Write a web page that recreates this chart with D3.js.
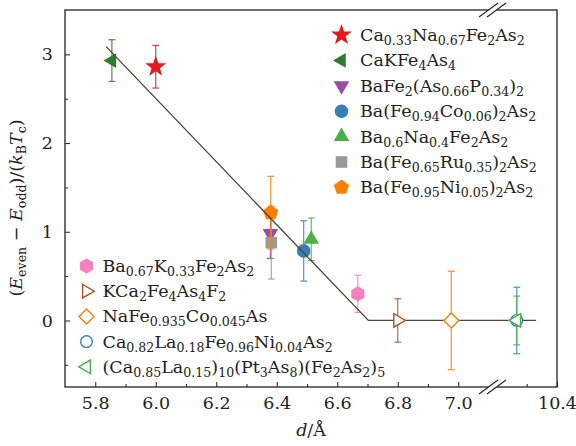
<!DOCTYPE html>
<html>
<head>
<meta charset="utf-8">
<script src="https://cdn.jsdelivr.net/npm/d3@7"></script>
<style>
  body { margin: 0; background: #fff; }
  text { font-family: "DejaVu Serif", serif; fill: #222; }
</style>
</head>
<body>
<div id="chart"></div>
<script>
// samples
const samples = [
    'Ca_{0.33}Na_{0.67}Fe_{2}As_{2}',
    'CaKFe_{4}As_{4}',
    'BaFe_{2}(As_{0.66}P_{0.34})_{2}',
    'Ba(Fe_{0.94}Co_{0.06})_{2}As_{2}',
    'Ba_{0.6}Na_{0.4}Fe_{2}As_{2}',
    'Ba(Fe_{0.65}Ru_{0.35})_{2}As_{2}',
    'Ba(Fe_{0.95}Ni_{0.05})_{2}As_{2}',
    'Ba_{0.67}K_{0.33}Fe_{2}As_{2}',
    'KCa_{2}Fe_{4}As_{4}F_{2}',
    'NaFe_{0.935}Co_{0.045}As',
    'Ca_{0.82}La_{0.18}Fe_{0.96}Ni_{0.04}As_{2}',
    '(Ca_{0.85}La_{0.15})_{10}(Pt_{3}As_{8})(Fe_{2}As_{2})_{5}'
];
const dValues = [6.00, 5.855, 6.379, 6.489, 6.514, 6.382, 6.38, 6.668, 6.80, 6.977, 10.267, 10.267];
const gapValues = [2.86, 2.93, 0.98, 0.784, 0.915, 0.877, 1.215, 0.30, 0, 0, 0, 0];
const gapErrors = [0.24, 0.235, 0.28, 0.34, 0.24, 0.41, 0.41, 0.21, 0.245, 0.555, 0.375, 0.275];
const markers = ['star', 'left', 'down', 'circle', 'up', 'square', 'pentagon', 'hexagon',
                 'openRight', 'openDiamond', 'openCircle', 'openLeft'];
const colors = ['#e41a1c', '#2e7a30', '#984ea3', '#377eb8', '#4daf4a', '#999999', '#ff7f00',
                '#f781bf', '#a65628', '#ff7f00', '#377eb8', '#4daf4a'];

// guide line
const fitD = [5.836, 6.703, 10.331];
const fitGap = [3.087, 0, 0];

const xMajor = [5.8, 6.0, 6.2, 6.4, 6.6, 6.8, 7.0, 10.4];
const xMinor = [5.9, 6.1, 6.3, 6.5, 6.7, 6.9, 10.3];
const yMajor = [0, 1, 2, 3];
const yMinor = [-0.5, 0.5, 1.5, 2.5];

const width = 576;
const height = 446;
const mLeft = 65, mRight = 557, mTop = 10, mBottom = 387;

const svg = d3.select('#chart').append('svg')
    .attr('width', width)
    .attr('height', height);

// broken x axis: 5.7..7.1 | 10.2..10.4
const x = d3.scaleLinear()
    .domain([5.7, 7.1, 10.2, 10.4])
    .range([mLeft, 488.5, 496.5, mRight]);
const y = d3.scaleLinear()
    .domain([-0.75, 3.5])
    .range([mBottom, mTop]);

// text with _{sub} and $italic$
function richText(sel, str) {
    const parts = str.match(/_\{[^}]*\}|\$[^$]*\$|[^_$]+/g);
    let shift = 0;
    parts.forEach((p) => {
        const t = sel.append('tspan');
        if (p.startsWith('_{')) {
            t.text(p.slice(2, -1)).attr('font-size', '0.72em').attr('dy', 4 - shift);
            shift = 4;
        } else {
            if (p.startsWith('$')) {
                t.text(p.slice(1, -1)).attr('font-style', 'italic');
            } else {
                t.text(p);
            }
            if (shift) t.attr('dy', -shift);
            shift = 0;
        }
    });
}

function polygon(n, r, start, inner) {
    const pts = [];
    const count = inner ? n * 2 : n;
    for (let i = 0; i < count; i += 1) {
        const a = (start + i * 360 / count) * Math.PI / 180;
        const rr = inner && i % 2 === 1 ? r * inner : r;
        pts.push([rr * Math.cos(a), rr * Math.sin(a)]);
    }
    return d3.line().curve(d3.curveLinearClosed)(pts);
}

function shape(type) {
    switch (type) {
        case 'star': return polygon(5, 11, -90, 0.4);
        case 'left': return polygon(3, 8.5, 180);
        case 'down': return polygon(3, 9, 90);
        case 'up': return polygon(3, 9, -90);
        case 'circle': return d3.symbol(d3.symbolCircle, Math.PI * 6.8 * 6.8)();
        case 'square': return polygon(4, 8.2, 45);
        case 'pentagon': return polygon(5, 8, -90);
        case 'hexagon': return polygon(6, 7.6, -90);
        case 'openRight': return polygon(3, 7.8, 0);
        case 'openDiamond': return polygon(4, 7.5, -90);
        case 'openCircle': return d3.symbol(d3.symbolCircle, Math.PI * 5.8 * 5.8)();
        case 'openLeft': return polygon(3, 7.8, 180);
    }
}

function drawMarker(g, i, cx, cy) {
    const open = markers[i].startsWith('open');
    g.append('path')
        .attr('d', shape(markers[i]))
        .attr('transform', `translate(${cx},${cy})`)
        .attr('fill', open ? '#fff' : colors[i])
        .attr('stroke', open ? colors[i] : 'none')
        .attr('stroke-width', 1.4);
}

function drawSample(g, i) {
    const cx = x(dValues[i]);
    const y0 = y(gapValues[i] - gapErrors[i]);
    const y1 = y(gapValues[i] + gapErrors[i]);
    const bar = g.append('g')
        .attr('stroke', colors[i])
        .attr('stroke-width', 1.2)
        .attr('stroke-opacity', 0.85);
    bar.append('line').attr('x1', cx).attr('x2', cx).attr('y1', y0).attr('y2', y1);
    [y0, y1].forEach((yy) => {
        bar.append('line').attr('x1', cx - 3.4).attr('x2', cx + 3.4).attr('y1', yy).attr('y2', yy);
    });
    drawMarker(g, i, cx, y(gapValues[i]));
}

// axes
const minorX = d3.axisBottom(x).tickValues(xMinor).tickSize(-3).tickFormat('');
const majorX = d3.axisBottom(x).tickValues(xMajor).tickSize(-5).tickPadding(10)
    .tickFormat(d3.format('.1f'));
const minorY = d3.axisLeft(y).tickValues(yMinor).tickSize(-3).tickFormat('');
const majorY = d3.axisLeft(y).tickValues(yMajor).tickSize(-5).tickPadding(12)
    .tickFormat(d3.format('d'));

[minorX, majorX].forEach((ax) => {
    svg.append('g').attr('transform', `translate(0,${mBottom})`).call(ax);
});
[minorY, majorY].forEach((ax) => {
    svg.append('g').attr('transform', `translate(${mLeft},0)`).call(ax);
});
svg.selectAll('.domain').remove();
svg.selectAll('.tick line').attr('stroke', '#222').attr('stroke-width', 1);
svg.selectAll('.tick text')
    .attr('font-size', '17.5px')
    .attr('font-family', '"DejaVu Serif", serif')
    .attr('fill', '#222');

// data
const plot = svg.append('g');
const filled = markers.map((m, i) => i).filter((i) => !markers[i].startsWith('open'));
const hollow = markers.map((m, i) => i).filter((i) => markers[i].startsWith('open'));
filled.forEach((i) => drawSample(plot, i));

plot.append('path')
    .datum(fitD.map((d, i) => [d, fitGap[i]]))
    .attr('d', d3.line().x((d) => x(d[0])).y((d) => y(d[1])))
    .attr('fill', 'none')
    .attr('stroke', '#4c4530')
    .attr('stroke-width', 1.3);

hollow.forEach((i) => drawSample(plot, i));

// frame
svg.append('rect')
    .attr('x', mLeft).attr('y', mTop)
    .attr('width', mRight - mLeft).attr('height', mBottom - mTop)
    .attr('fill', 'none')
    .attr('stroke', '#222')
    .attr('stroke-width', 1.3);

// axis break marks
[mTop, mBottom].forEach((yy) => {
    const a = x(7.1), b = x(10.2);
    svg.append('path')
        .attr('d', `M${a - 9.5},${yy + 7}L${a + 9.5},${yy - 7}L${b + 9.5},${yy - 7}L${b - 9.5},${yy + 7}Z`)
        .attr('fill', '#fff');
    [a, b].forEach((c) => {
        svg.append('line')
            .attr('x1', c - 9.5).attr('y1', yy + 7)
            .attr('x2', c + 9.5).attr('y2', yy - 7)
            .attr('stroke', '#222')
            .attr('stroke-width', 1.1);
    });
});

// legends
function legend(ids, mx, tx, y0, step) {
    const g = svg.append('g');
    ids.forEach((i, k) => {
        const cy = y0 + k * step;
        drawMarker(g, i, mx, cy);
        const t = g.append('text')
            .attr('x', tx)
            .attr('y', cy + 6)
            .attr('font-size', '17.5px');
        richText(t, samples[i]);
    });
}
legend([0, 1, 2, 3, 4, 5, 6], 341.5, 360, 35, 25.4);
legend([7, 8, 9, 10, 11], 86.5, 102.5, 266, 25.2);

// axis titles
const yTitle = svg.append('text')
    .attr('transform', `translate(22,208) rotate(-90)`)
    .attr('text-anchor', 'middle')
    .attr('font-size', '17.5px');
richText(yTitle, '($E$_{even} − $E$_{odd})/($k$_{B}$T$_{c})');

const xTitle = svg.append('text')
    .attr('x', (mLeft + mRight) / 2)
    .attr('y', 436)
    .attr('text-anchor', 'middle')
    .attr('font-size', '17.5px');
richText(xTitle, '$d$/Å');
</script>
</body>
</html>
